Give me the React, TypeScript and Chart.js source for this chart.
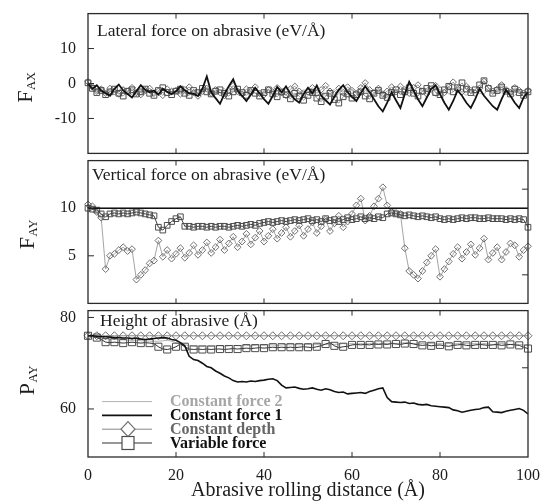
import React, { useEffect, useRef } from "react";
import { Chart, registerables } from "chart.js";

Chart.register(...registerables);

// ---------------- data ----------------
const distance = [
  0, 1, 2, 3, 4, 5, 6, 7, 8, 9,
  10, 11, 12, 13, 14, 15, 16, 17, 18, 19,
  20, 21, 22, 23, 24, 25, 26, 27, 28, 29,
  30, 31, 32, 33, 34, 35, 36, 37, 38, 39,
  40, 41, 42, 43, 44, 45, 46, 47, 48, 49,
  50, 51, 52, 53, 54, 55, 56, 57, 58, 59,
  60, 61, 62, 63, 64, 65, 66, 67, 68, 69,
  70, 71, 72, 73, 74, 75, 76, 77, 78, 79,
  80, 81, 82, 83, 84, 85, 86, 87, 88, 89,
  90, 91, 92, 93, 94, 95, 96, 97, 98, 99,
  100,
];
const constantEnds = [0, 100];

const xTickValues = [0, 20, 40, 60, 80, 100];
const lateralTicks = [-10, 0, 10];
const verticalTicks = [5, 10];
const heightTicks = [60, 80];
const verticalRightTicks = [3, 12];
const heightRightTicks = [69];

const seriesNames = ["Constant force 2", "Constant force 1", "Constant depth", "Variable force"];

// Lateral force F_AX
const lateralForce2 = [
  -0.5, -1.8, -2.5, -1.2, -2.2, -3.0, -1.5, -2.4, -1.0, -2.6,
  -3.2, -1.8, -2.0, -2.8, -1.4, -2.2, -3.0, -1.6, -2.4, -1.2,
  -2.8, -2.0, -1.5, -3.0, -2.2, -1.8, -2.6, -1.0, -2.4, -3.2,
  -2.0, -1.4, -2.8, -2.2, -1.6, -3.0, -2.4, -1.2, -2.6, -3.4,
  -2.0, -1.6, -2.8, -2.2, -3.0, -1.4, -2.4, -3.2, -2.6, -1.8,
  -2.2, -3.0, -1.6, -2.6, -3.4, -2.2, -1.8, -2.8, -3.6, -2.4,
  -1.6, -2.8, -3.4, -2.0, -2.6, -3.2, -1.8, -2.4, -3.6, -2.8,
  -2.0, -3.0, -2.4, -1.4, -2.8, -3.4, -2.2, -1.6, -2.6, -3.6,
  -2.4, -1.8, -3.0, -2.4, -1.0, -2.6, -3.4, -2.0, -1.6, -2.8,
  -3.2, -1.4, -2.2, -3.0, -2.4, -1.6, -2.8, -3.4, -2.2, -2.8,
  -3.0,
];
const lateralForce1 = [
  0.0, -1.5, -0.5, -2.0, -2.8, -3.5, -1.5, -0.3, -2.0, -3.0,
  -4.0, -2.2, -0.5, -1.8, -2.5, -2.0, -3.2, -1.5, -2.4, -3.0,
  -2.2, -0.8, -2.0, -2.8, -3.0, -3.6, -1.5, 2.0, -2.5, -4.2,
  -5.8, -3.0, -0.8, 1.2, -2.0, -3.5, -5.0, -3.2, -1.2, -2.8,
  -4.5, -5.8, -3.5, -1.0, -2.5, -0.8, -3.0, -4.5, -5.5, -3.0,
  -1.2, -2.8, -0.6, -3.5, -4.8, -6.0, -3.8, -1.8, -0.5, -2.5,
  -3.8, -5.0, -2.8, -0.8, -2.5, -4.5, -6.5, -8.0, -5.5, -2.5,
  -4.8, -7.0, -3.0, 0.5, -2.0, -4.5, -6.5, -4.0, -1.5, -0.5,
  -3.0, -5.5, -7.5, -5.0, -2.0, -3.5, -5.5, -7.0, -4.5, -1.5,
  -3.5, -5.0, -6.5, -7.5, -4.5, -1.8, -3.5, -5.5, -7.0, -4.0,
  -2.5,
];
const lateralDepth = [
  0.5, -1.0, -2.2, -1.6, -2.8, -1.4, -2.4, -3.0, -1.8, -2.2,
  -1.2, -2.6, -3.2, -2.0, -1.4, -2.8, -2.2, -3.4, -1.6, -2.4,
  -2.0, -3.0, -1.8, -1.0, -2.6, -3.6, -2.2, -1.4, -2.8, -1.8,
  -2.6, -3.4, -2.0, -0.6, -2.2, -3.0, -1.6, -2.4, -1.0, -2.8,
  -3.2, -1.8, -2.4, -1.2, -2.6, -3.4, -1.6, -0.8, -2.2, -3.0,
  -2.4, -1.2, -2.8, -1.8, -0.6, -2.2, -3.2, -1.4, -2.6, -1.0,
  -2.0, -2.8, -1.2, 0.2, -1.8, -2.6, -1.4, -3.0, -2.2, -1.0,
  -2.4, -0.8, -1.8, -2.8, -1.2, -0.4, -2.2, -3.0, -1.6, -0.6,
  -1.8, -2.6, -1.0, 0.4, -1.6, -2.4, -0.8, -2.0, -2.8, -1.4,
  0.6, -1.2, -2.2, -1.6, -0.4, -1.8, -2.6, -1.2, -2.0, -2.8,
  -2.0,
];
const lateralVariable = [
  0.2, -1.4, -2.6, -2.0, -3.2, -2.4, -1.6, -2.8, -3.6, -2.2,
  -1.8, -3.0, -2.4, -1.6, -2.8, -3.4, -2.0, -1.2, -2.6, -3.2,
  -2.2, -1.6, -2.8, -3.4, -2.0, -2.6, -1.4, -2.4, -3.0, -2.2,
  -1.8, -2.8, -3.6, -2.4, -1.6, -2.6, -3.4, -2.0, -2.8, -3.6,
  -2.6, -1.8, -3.0, -3.8, -2.4, -3.2, -4.4, -2.8, -3.6, -4.8,
  -3.4, -2.6, -4.2, -5.2, -3.6, -2.8, -4.6, -5.6, -3.8, -3.0,
  -4.2, -3.2, -2.4, -3.6, -4.4, -2.8, -2.0, -3.4, -4.0, -2.6,
  -1.8, -3.2, -2.4, -1.2, -2.8, -3.6, -2.2, -1.4, -0.6, -2.6,
  -3.2, -1.8, -0.8, -2.4, -1.2, 0.2, -1.6, -2.6, -1.8, -0.4,
  0.8, -1.4, -2.8, -2.0, -1.0, -2.2, -3.0, -1.6, -2.6, -3.4,
  -2.4,
];

// Vertical force F_AY
const verticalForce2 = [10, 10];
const verticalForce1 = [10, 10];
const verticalDepth = [
  10.4, 10.2, 9.6, 9.0, 3.6, 5.0, 5.2, 5.6, 5.9, 5.5,
  5.7, 2.5, 3.0, 3.5, 4.2, 4.5, 6.6, 4.9, 5.6, 4.7,
  5.2, 5.8, 4.8, 5.3, 6.1, 5.1, 5.6, 6.4, 5.3, 5.9,
  6.7, 5.6, 6.3, 7.0, 5.9, 6.5, 7.3, 6.2, 6.9, 7.6,
  6.5, 7.1, 7.8, 6.8, 7.4, 8.0, 7.0, 7.6, 8.2, 7.1,
  7.8, 8.5, 7.4, 8.1, 8.8, 7.6, 8.4, 9.2, 8.0, 8.6,
  9.4, 10.3, 11.0, 8.7, 9.2, 10.2, 11.0, 12.2, 10.3, 9.6,
  9.5, 9.4, 5.8, 3.4, 3.0, 2.6, 3.4, 4.3, 5.0, 5.7,
  2.8, 3.6, 4.4, 5.2, 5.9, 4.7, 5.4, 6.2, 5.1, 5.8,
  6.8, 4.6, 5.3, 5.9, 4.6, 5.4, 6.3, 6.1, 4.9, 5.6,
  6.0,
];
const verticalVariable = [
  10.0, 9.9, 9.8, 9.4, 9.1, 9.4, 9.5, 9.4, 9.5, 9.4,
  9.5, 9.6, 9.5, 9.4, 9.3, 9.2, 8.0, 7.7, 8.2, 8.6,
  8.9, 9.1, 8.1, 8.1, 8.0, 8.1, 8.1, 8.0, 8.1, 8.0,
  8.1, 8.1, 8.0, 8.1, 8.2, 8.1, 8.2, 8.3, 8.2, 8.4,
  8.5, 8.6, 8.5, 8.6, 8.7, 8.6, 8.7, 8.8, 8.7, 8.8,
  8.9, 8.7, 8.8, 8.6, 8.9, 8.7, 8.8, 8.6, 8.8, 9.0,
  8.8, 8.9, 9.1, 8.9, 9.0, 8.9, 9.1, 9.0, 9.4, 9.5,
  9.4, 9.3, 9.2, 9.3, 9.2, 9.1, 9.2, 9.1, 9.0, 9.1,
  8.9, 8.8, 8.9, 8.8, 8.9, 9.0, 8.9, 9.0, 9.0, 8.9,
  8.9, 9.0, 8.9, 8.9, 8.9, 8.8, 8.9, 8.8, 8.9, 8.8,
  8.0,
];

// Height of abrasive P_AY
const heightForce2 = [
  76.0, 75.8, 75.6, 75.5, 75.4, 75.3, 75.2, 75.2, 75.1, 75.1,
  75.0, 75.0, 74.9, 74.9, 74.8, 74.8, 74.8, 74.9, 75.0, 74.8,
  74.5, 74.2, 74.0, 73.9, 73.8, 73.8, 73.7, 73.8, 73.7, 73.8,
  73.8, 73.7, 73.8, 73.9, 73.8, 73.9, 73.9, 73.8, 73.9, 74.0,
  73.9, 74.0, 74.0, 73.9, 74.0, 74.1, 74.0, 74.1, 74.0, 74.1,
  74.1, 74.0, 74.1, 74.2, 74.1, 74.2, 74.1, 74.2, 74.3, 74.2,
  74.3, 74.2, 74.3, 74.2, 74.3, 74.4, 74.3, 74.4, 74.3, 74.4,
  74.3, 74.4, 74.5, 74.4, 74.3, 74.4, 74.3, 74.4, 74.3, 74.2,
  74.3, 74.2, 74.3, 74.2, 74.3, 74.4, 74.3, 74.2, 74.3, 74.2,
  74.3, 74.2, 74.1, 74.2, 74.3, 74.2, 74.1, 74.2, 74.1, 74.0,
  74.0,
];
const heightForce1 = [
  76.0, 76.0, 75.9, 75.8, 75.8, 75.7, 75.6, 75.6, 75.5, 75.5,
  75.4, 75.5, 75.3, 75.2, 75.3, 75.4, 75.5, 75.6, 75.5, 75.2,
  75.0, 74.5, 73.8, 71.5, 70.8, 70.6, 70.0, 69.3, 69.0, 68.3,
  67.8, 67.2, 66.8, 66.2, 65.9, 66.0, 65.9, 66.1, 66.0, 66.2,
  66.3, 66.5, 66.6, 66.2, 65.2, 64.6, 64.7, 64.8, 64.5, 64.3,
  64.4, 64.6, 64.3, 64.1, 64.4, 64.2, 63.8, 63.6, 63.7, 63.3,
  63.4, 63.5, 63.6, 63.4, 63.8, 64.1, 64.4, 64.6, 62.5, 61.6,
  61.5, 61.4, 61.5, 61.2, 61.3, 61.0, 60.9, 61.0, 60.7, 60.6,
  60.5, 60.4, 60.3, 59.8, 59.6, 59.3, 59.5, 59.7, 59.9, 60.0,
  60.3, 60.4, 59.4, 59.3, 59.2, 59.5, 59.7, 59.9, 60.1, 59.7,
  58.9,
];
const heightDepth = [
  76.0, 76.0, 76.0, 76.0, 76.0, 76.0, 76.0, 76.0, 76.0, 76.0,
  76.0, 76.0, 76.0, 76.0, 76.0, 76.0, 76.0, 76.0, 76.0, 76.0,
  76.0, 76.0, 76.0, 76.0, 76.0, 76.0, 76.0, 76.0, 76.0, 76.0,
  76.0, 76.0, 76.0, 76.0, 76.0, 76.0, 76.0, 76.0, 76.0, 76.0,
  76.0, 76.0, 76.0, 76.0, 76.0, 76.0, 76.0, 76.0, 76.0, 76.0,
  76.0, 76.0, 76.0, 76.0, 76.0, 76.0, 76.0, 76.0, 76.0, 76.0,
  76.0, 76.0, 76.0, 76.0, 76.0, 76.0, 76.0, 76.0, 76.0, 76.0,
  76.0, 76.0, 76.0, 76.0, 76.0, 76.0, 76.0, 76.0, 76.0, 76.0,
  76.0, 76.0, 76.0, 76.0, 76.0, 76.0, 76.0, 76.0, 76.0, 76.0,
  76.0, 76.0, 76.0, 76.0, 76.0, 76.0, 76.0, 76.0, 76.0, 76.0,
  76.0,
];
const heightVariable = [
  76.0, 75.9, 75.6, 75.2, 74.6, 74.5, 74.6, 74.5, 74.4, 74.5,
  74.6, 74.5, 74.4, 74.5, 74.4, 74.3, 73.6, 73.1, 73.0, 73.2,
  73.6, 74.2, 73.6, 73.1, 73.0, 73.1, 73.0, 73.1, 73.0, 73.1,
  73.1, 73.0, 73.1, 73.2, 73.1, 73.2, 73.3, 73.2, 73.3, 73.4,
  73.3, 73.4, 73.5, 73.4, 73.5, 73.4, 73.5, 73.4, 73.5, 73.6,
  73.5, 73.4, 73.6, 73.8, 74.2, 74.5, 73.8, 73.4, 73.6, 73.7,
  74.0, 74.1, 74.0, 74.1, 74.0, 74.2, 74.1, 74.2, 74.1, 74.3,
  74.2, 74.1, 74.3, 74.4, 74.2, 74.0, 73.9, 74.0, 73.8, 73.9,
  74.0, 73.8, 73.7, 73.9, 74.0, 74.1, 73.9, 73.8, 74.0, 74.1,
  74.0, 73.9, 74.0, 74.1, 73.9, 74.0, 74.1, 74.0, 73.9, 73.5,
  73.2,
];

// ---------------- styles ----------------
const FONT = "'Liberation Serif', 'Times New Roman', serif";
const INK = "#1c1c1c";

const pairs = (xs: number[], ys: number[]) => ys.map((y, i) => ({ x: xs[i], y }));

const every = (n: number, r: number) => (ctx: any) => (ctx.dataIndex % n === 0 ? r : 0);

function force2Style() {
  return { borderColor: "#b3b3b3", borderWidth: 1, pointRadius: 0 };
}
function force1Style(w: number) {
  return { borderColor: "#111111", borderWidth: w, pointRadius: 0 };
}
function depthStyle(r: number, n: number, line: string) {
  return {
    borderColor: line,
    borderWidth: 0.9,
    pointStyle: "rectRot",
    pointRadius: every(n, r),
    pointBorderColor: "#6e6e6e",
    pointBackgroundColor: "rgba(255,255,255,0)",
    pointBorderWidth: 1,
  };
}
function variableStyle(r: number, n: number, line: string) {
  return {
    borderColor: line,
    borderWidth: 0.9,
    pointStyle: "rect",
    pointRadius: every(n, r),
    pointBorderColor: "#4d4d4d",
    pointBackgroundColor: "rgba(255,255,255,0)",
    pointBorderWidth: 1,
  };
}

const legendTextColors: Record<string, string> = {
  "Constant force 2": "#a6a6a6",
  "Constant force 1": "#111111",
  "Constant depth": "#666666",
  "Variable force": "#111111",
};

// ---------------- plugin: frame, inward ticks, titles, legend ----------------
const decorPlugin = {
  id: "decor",
  afterDatasetsDraw(chart: any, _args: any, opts: any) {
    const { ctx, chartArea: a, scales } = chart;
    const xs = scales.x;
    const ys = scales.y;
    ctx.save();
    ctx.strokeStyle = "#2a2a2a";
    ctx.lineWidth = 1.3;
    ctx.strokeRect(a.left, a.top, a.right - a.left, a.bottom - a.top);

    ctx.lineWidth = 1;
    ctx.beginPath();
    for (const v of opts.xTicks) {
      const px = xs.getPixelForValue(v);
      if (v === 0 || v === 100) continue;
      ctx.moveTo(px, a.top);
      ctx.lineTo(px, a.top + 5);
      ctx.moveTo(px, a.bottom);
      ctx.lineTo(px, a.bottom - 5);
    }
    for (const v of opts.leftTicks) {
      const py = ys.getPixelForValue(v);
      ctx.moveTo(a.left, py);
      ctx.lineTo(a.left + 6, py);
    }
    for (const v of opts.rightTicks) {
      const py = ys.getPixelForValue(v);
      ctx.moveTo(a.right, py);
      ctx.lineTo(a.right - 6, py);
    }
    ctx.stroke();

    // panel title
    ctx.fillStyle = INK;
    ctx.font = `17.5px ${FONT}`;
    ctx.textAlign = "left";
    ctx.textBaseline = "middle";
    ctx.fillText(opts.title, a.left + opts.titleDx, a.top + opts.titleDy);

    // rotated y title with subscript
    ctx.save();
    ctx.translate(opts.yTitleX, a.top + opts.yTitleDy);
    ctx.rotate(-Math.PI / 2);
    ctx.textBaseline = "alphabetic";
    ctx.font = `22px ${FONT}`;
    const wMain = ctx.measureText(opts.yMain).width;
    ctx.font = `12.5px ${FONT}`;
    const wSub = ctx.measureText(opts.ySub).width;
    const start = -(wMain + wSub) / 2;
    ctx.font = `22px ${FONT}`;
    ctx.fillText(opts.yMain, start, opts.yBase);
    ctx.font = `12.5px ${FONT}`;
    ctx.fillText(opts.ySub, start + wMain + 0.5, opts.yBase + 2.5);
    ctx.restore();

    // legend inside plot
    if (opts.legend) {
      const byLabel: Record<string, any> = {};
      chart.data.datasets.forEach((d: any) => (byLabel[d.label] = d));
      seriesNames.forEach((name, i) => {
        const ds = byLabel[name];
        const y = a.top + 91 + i * 13.8;
        const x0 = a.left + 14;
        const x1 = a.left + 64;
        const cx = a.left + 40;
        ctx.strokeStyle = ds.borderColor;
        ctx.lineWidth = ds.borderWidth;
        ctx.beginPath();
        ctx.moveTo(x0, y);
        ctx.lineTo(x1, y);
        ctx.stroke();
        ctx.strokeStyle = ds.pointBorderColor || ds.borderColor;
        ctx.lineWidth = 1.2;
        if (ds.pointStyle === "rectRot") {
          ctx.fillStyle = "#ffffff";
          ctx.beginPath();
          ctx.moveTo(cx, y - 7.5);
          ctx.lineTo(cx + 7, y);
          ctx.lineTo(cx, y + 7.5);
          ctx.lineTo(cx - 7, y);
          ctx.closePath();
          ctx.fill();
          ctx.stroke();
        } else if (ds.pointStyle === "rect") {
          ctx.fillStyle = "#ffffff";
          ctx.fillRect(cx - 6, y - 6.5, 12, 13);
          ctx.strokeRect(cx - 6, y - 6.5, 12, 13);
        }
        ctx.fillStyle = legendTextColors[name];
        ctx.font = `bold 16px ${FONT}`;
        ctx.textAlign = "left";
        ctx.textBaseline = "middle";
        ctx.fillText(name, a.left + 82, y + 0.5);
      });
    }
    ctx.restore();
  },
};

// ---------------- config builder ----------------
function makeConfig(p: any) {
  return {
    type: "line",
    data: { datasets: p.datasets },
    plugins: [decorPlugin],
    options: {
      responsive: false,
      animation: false,
      events: [],
      layout: { padding: { left: 0, right: 18, top: p.padTop, bottom: p.padBottom } },
      elements: { line: { tension: 0 } },
      plugins: {
        legend: { display: false },
        tooltip: { enabled: false },
        decor: {
          xTicks: xTickValues,
          leftTicks: p.leftTicks,
          rightTicks: p.rightTicks,
          title: p.title,
          titleDx: p.titleDx,
          titleDy: p.titleDy,
          yMain: p.yMain,
          ySub: p.ySub,
          yTitleX: p.yTitleX,
          yTitleDy: p.yTitleDy,
          yBase: p.yBase,
          legend: p.legend,
        },
      },
      scales: {
        x: {
          type: "linear",
          min: 0,
          max: 100,
          display: p.showX,
          afterBuildTicks: (s: any) => {
            s.ticks = xTickValues.map((v) => ({ value: v }));
          },
          afterFit: (s: any) => {
            if (p.showX) s.height = 44;
          },
          grid: { display: false },
          border: { display: false },
          ticks: { font: { family: FONT, size: 16 }, color: INK, padding: 1, maxRotation: 0 },
          title: {
            display: p.showX,
            text: "Abrasive rolling distance (Å)",
            font: { family: FONT, size: 20, lineHeight: 1 },
            color: INK,
            padding: { top: 0, bottom: 0 },
          },
        },
        y: {
          type: "linear",
          min: p.yMin,
          max: p.yMax,
          afterBuildTicks: (s: any) => {
            s.ticks = p.leftTicks.map((v: number) => ({ value: v }));
          },
          afterFit: (s: any) => {
            s.width = 88;
          },
          grid: { display: false },
          border: { display: false },
          ticks: { font: { family: FONT, size: 16 }, color: INK, padding: 4 },
        },
      },
    },
  };
}

function ds(label: string, xs: number[], ys: number[], style: any) {
  return { label, data: pairs(xs, ys), clip: 8, ...style };
}

export default function App() {
  const r1 = useRef<HTMLCanvasElement>(null);
  const r2 = useRef<HTMLCanvasElement>(null);
  const r3 = useRef<HTMLCanvasElement>(null);

  useEffect(() => {
    const [n2, n1, nd, nv] = seriesNames;
    const panel1 = makeConfig({
      datasets: [
        ds(n1, distance, lateralForce1, force1Style(1.8)),
        ds(nv, distance, lateralVariable, variableStyle(4, 1, "#8c8c8c")),
        ds(nd, distance, lateralDepth, depthStyle(3.2, 1, "#9a9a9a")),
        ds(n2, distance, lateralForce2, force2Style()),
      ],
      padTop: 7, padBottom: 10, yMin: -20, yMax: 20,
      leftTicks: lateralTicks, rightTicks: [],
      title: "Lateral force on abrasive (eV/Å)", titleDx: 9, titleDy: 18,
      yMain: "F", ySub: "AX", yTitleX: 24, yTitleDy: 74, yBase: 8,
      showX: false, legend: false,
    });
    const panel2 = makeConfig({
      datasets: [
        ds(n1, constantEnds, verticalForce1, force1Style(1.6)),
        ds(nv, distance, verticalVariable, variableStyle(4, 1, "#2a2a2a")),
        ds(nd, distance, verticalDepth, depthStyle(3.4, 1, "#9a9a9a")),
        ds(n2, constantEnds, verticalForce2, force2Style()),
      ],
      padTop: 10, padBottom: 10, yMin: 0, yMax: 15,
      leftTicks: verticalTicks, rightTicks: verticalRightTicks,
      title: "Vertical force on abrasive (eV/Å)", titleDx: 4, titleDy: 15,
      yMain: "F", ySub: "AY", yTitleX: 25, yTitleDy: 74, yBase: 9,
      showX: false, legend: false,
    });
    const panel3 = makeConfig({
      datasets: [
        ds(n1, distance, heightForce1, force1Style(1.6)),
        ds(nv, distance, heightVariable, variableStyle(5, 2, "#1a1a1a")),
        ds(nd, distance, heightDepth, depthStyle(4, 2, "#7a7a7a")),
        ds(n2, distance, heightForce2, force2Style()),
      ],
      padTop: 10, padBottom: 0, yMin: 49.5, yMax: 81.5,
      leftTicks: heightTicks, rightTicks: heightRightTicks,
      title: "Height of abrasive (Å)", titleDx: 12, titleDy: 11,
      yMain: "P", ySub: "AY", yTitleX: 25, yTitleDy: 70, yBase: 9,
      showX: true, legend: true,
    });
    const charts = [
      new Chart(r1.current as HTMLCanvasElement, panel1 as any),
      new Chart(r2.current as HTMLCanvasElement, panel2 as any),
      new Chart(r3.current as HTMLCanvasElement, panel3 as any),
    ];
    return () => charts.forEach((c) => c.destroy());
  }, []);

  return (
    <div style={{ position: "absolute", left: 0, top: 0, width: 546, height: 501, background: "#ffffff", overflow: "hidden" }}>
      <canvas ref={r1} width={546} height={167} style={{ position: "absolute", left: 0, top: 0, width: 546, height: 167 }} />
      <canvas ref={r2} width={546} height={170} style={{ position: "absolute", left: 0, top: 147, width: 546, height: 170 }} />
      <canvas ref={r3} width={546} height={204} style={{ position: "absolute", left: 0, top: 297, width: 546, height: 204 }} />
    </div>
  );
}
